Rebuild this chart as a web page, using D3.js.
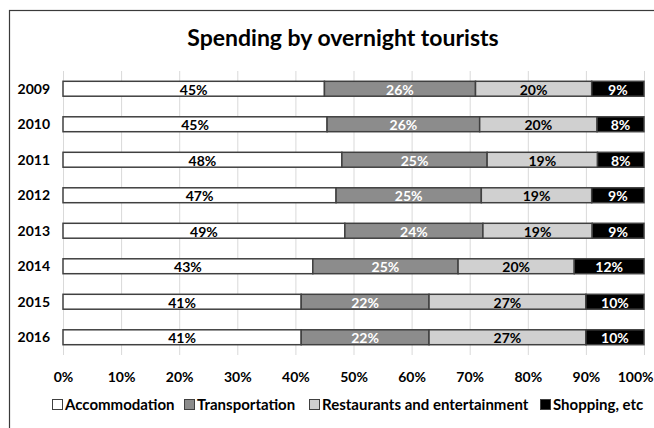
<!DOCTYPE html>
<html>
<head>
<meta charset="utf-8">
<script src="https://cdn.jsdelivr.net/npm/d3@7"></script>
<style>
  html, body { margin: 0; padding: 0; background: #fff; }
  svg { display: block; font-family: Lato, "Open Sans", sans-serif; }
</style>
</head>
<body>
<svg id="chart" width="654" height="428"></svg>
<script>
// Shares of overnight-tourist spending by year (percent, as labelled)
const years = ["2009", "2010", "2011", "2012", "2013", "2014", "2015", "2016"];
const categories = ["Accommodation", "Transportation", "Restaurants and entertainment", "Shopping, etc"];
const accommodation  = [45, 45, 48, 47, 49, 43, 41, 41];
const transportation = [26, 26, 25, 25, 24, 25, 22, 22];
const restaurants    = [20, 20, 19, 19, 19, 20, 27, 27];
const shopping       = [9, 8, 8, 9, 9, 12, 10, 10];
const xTicks = [0, 0.1, 0.2, 0.3, 0.4, 0.5, 0.6, 0.7, 0.8, 0.9, 1];

const fills = ["#ffffff", "#8c8c8c", "#d0d0d0", "#000000"];
const labelColors = ["#000000", "#ffffff", "#000000", "#ffffff"];

const series = [accommodation, transportation, restaurants, shopping];
const rows = years.map((y, i) => {
  const r = { year: y };
  categories.forEach((c, k) => { r[c] = series[k][i]; });
  return r;
});

const svg = d3.select("#chart");

// Outer frame
svg.append("rect")
  .attr("x", 9.5).attr("y", 10.5)
  .attr("width", 660).attr("height", 440)
  .attr("fill", "none").attr("stroke", "#3a3a3a").attr("stroke-width", 1.2);

// Title
svg.append("text")
  .attr("x", 343).attr("y", 46)
  .attr("text-anchor", "middle")
  .attr("font-size", 23).attr("font-weight", "bold").attr("fill", "#000")
  .text("Spending by overnight tourists");

const x = d3.scaleLinear().domain([0, 1]).range([63, 644]);
const y = d3.scaleBand().domain(years).range([71, 355]).paddingInner(0.58).paddingOuter(0.29);

// Vertical gridlines
svg.append("g").selectAll("line").data(xTicks).join("line")
  .attr("x1", d => x(d) + 0.5).attr("x2", d => x(d) + 0.5)
  .attr("y1", 71).attr("y2", 355)
  .attr("stroke", "#d9d9d9").attr("stroke-width", 1);

// 100% stacked layout
const stack = d3.stack().keys(categories).offset(d3.stackOffsetExpand);
const layers = stack(rows);

const g = svg.append("g");
layers.forEach((layer, k) => {
  g.append("g").selectAll("rect").data(layer).join("rect")
    .attr("x", d => x(d[0]))
    .attr("y", d => y(d.data.year))
    .attr("width", d => x(d[1]) - x(d[0]))
    .attr("height", y.bandwidth())
    .attr("fill", fills[k])
    .attr("stroke", "#404040").attr("stroke-width", 1.5);
});
layers.forEach((layer, k) => {
  g.append("g").selectAll("text").data(layer).join("text")
    .attr("x", d => (x(d[0]) + x(d[1])) / 2)
    .attr("y", d => y(d.data.year) + y.bandwidth() / 2 + 6)
    .attr("text-anchor", "middle")
    .attr("font-size", 14).attr("font-weight", "bold")
    .attr("fill", labelColors[k])
    .text(d => d.data[layer.key] + "%");
});

// Year labels
svg.append("g").selectAll("text").data(years).join("text")
  .attr("x", 50)
  .attr("y", d => y(d) + y.bandwidth() / 2 + 5)
  .attr("text-anchor", "end")
  .attr("font-size", 14).attr("font-weight", "bold").attr("fill", "#000")
  .text(d => d);

// Percentage axis
const xAxis = d3.axisBottom(x).tickValues(xTicks).tickFormat(d3.format(".0%")).tickSize(0).tickPadding(0);
const ax = svg.append("g").attr("transform", "translate(0,372)").call(xAxis);
ax.select(".domain").remove();
ax.selectAll("text")
  .attr("font-family", "Lato, 'Open Sans', sans-serif")
  .attr("font-size", 14).attr("font-weight", "bold").attr("fill", "#000");
// keep the last tick label inside the frame
ax.selectAll(".tick").filter(d => d === 1).select("text")
  .attr("text-anchor", "end").attr("x", 653 - x(1));

// Legend
const legend = svg.append("g").attr("transform", "translate(0,410)");
const legendX = [52, 184, 309, 540];
categories.forEach((c, k) => {
  const item = legend.append("g").attr("transform", `translate(${legendX[k]},0)`);
  item.append("rect")
    .attr("x", 0.5).attr("y", -10.5).attr("width", 10).attr("height", 10)
    .attr("fill", fills[k]).attr("stroke", "#404040").attr("stroke-width", 1);
  item.append("text")
    .attr("x", 13).attr("y", 0)
    .attr("font-size", 15).attr("font-weight", "bold").attr("fill", "#000")
    .text(c);
});
</script>
</body>
</html>
